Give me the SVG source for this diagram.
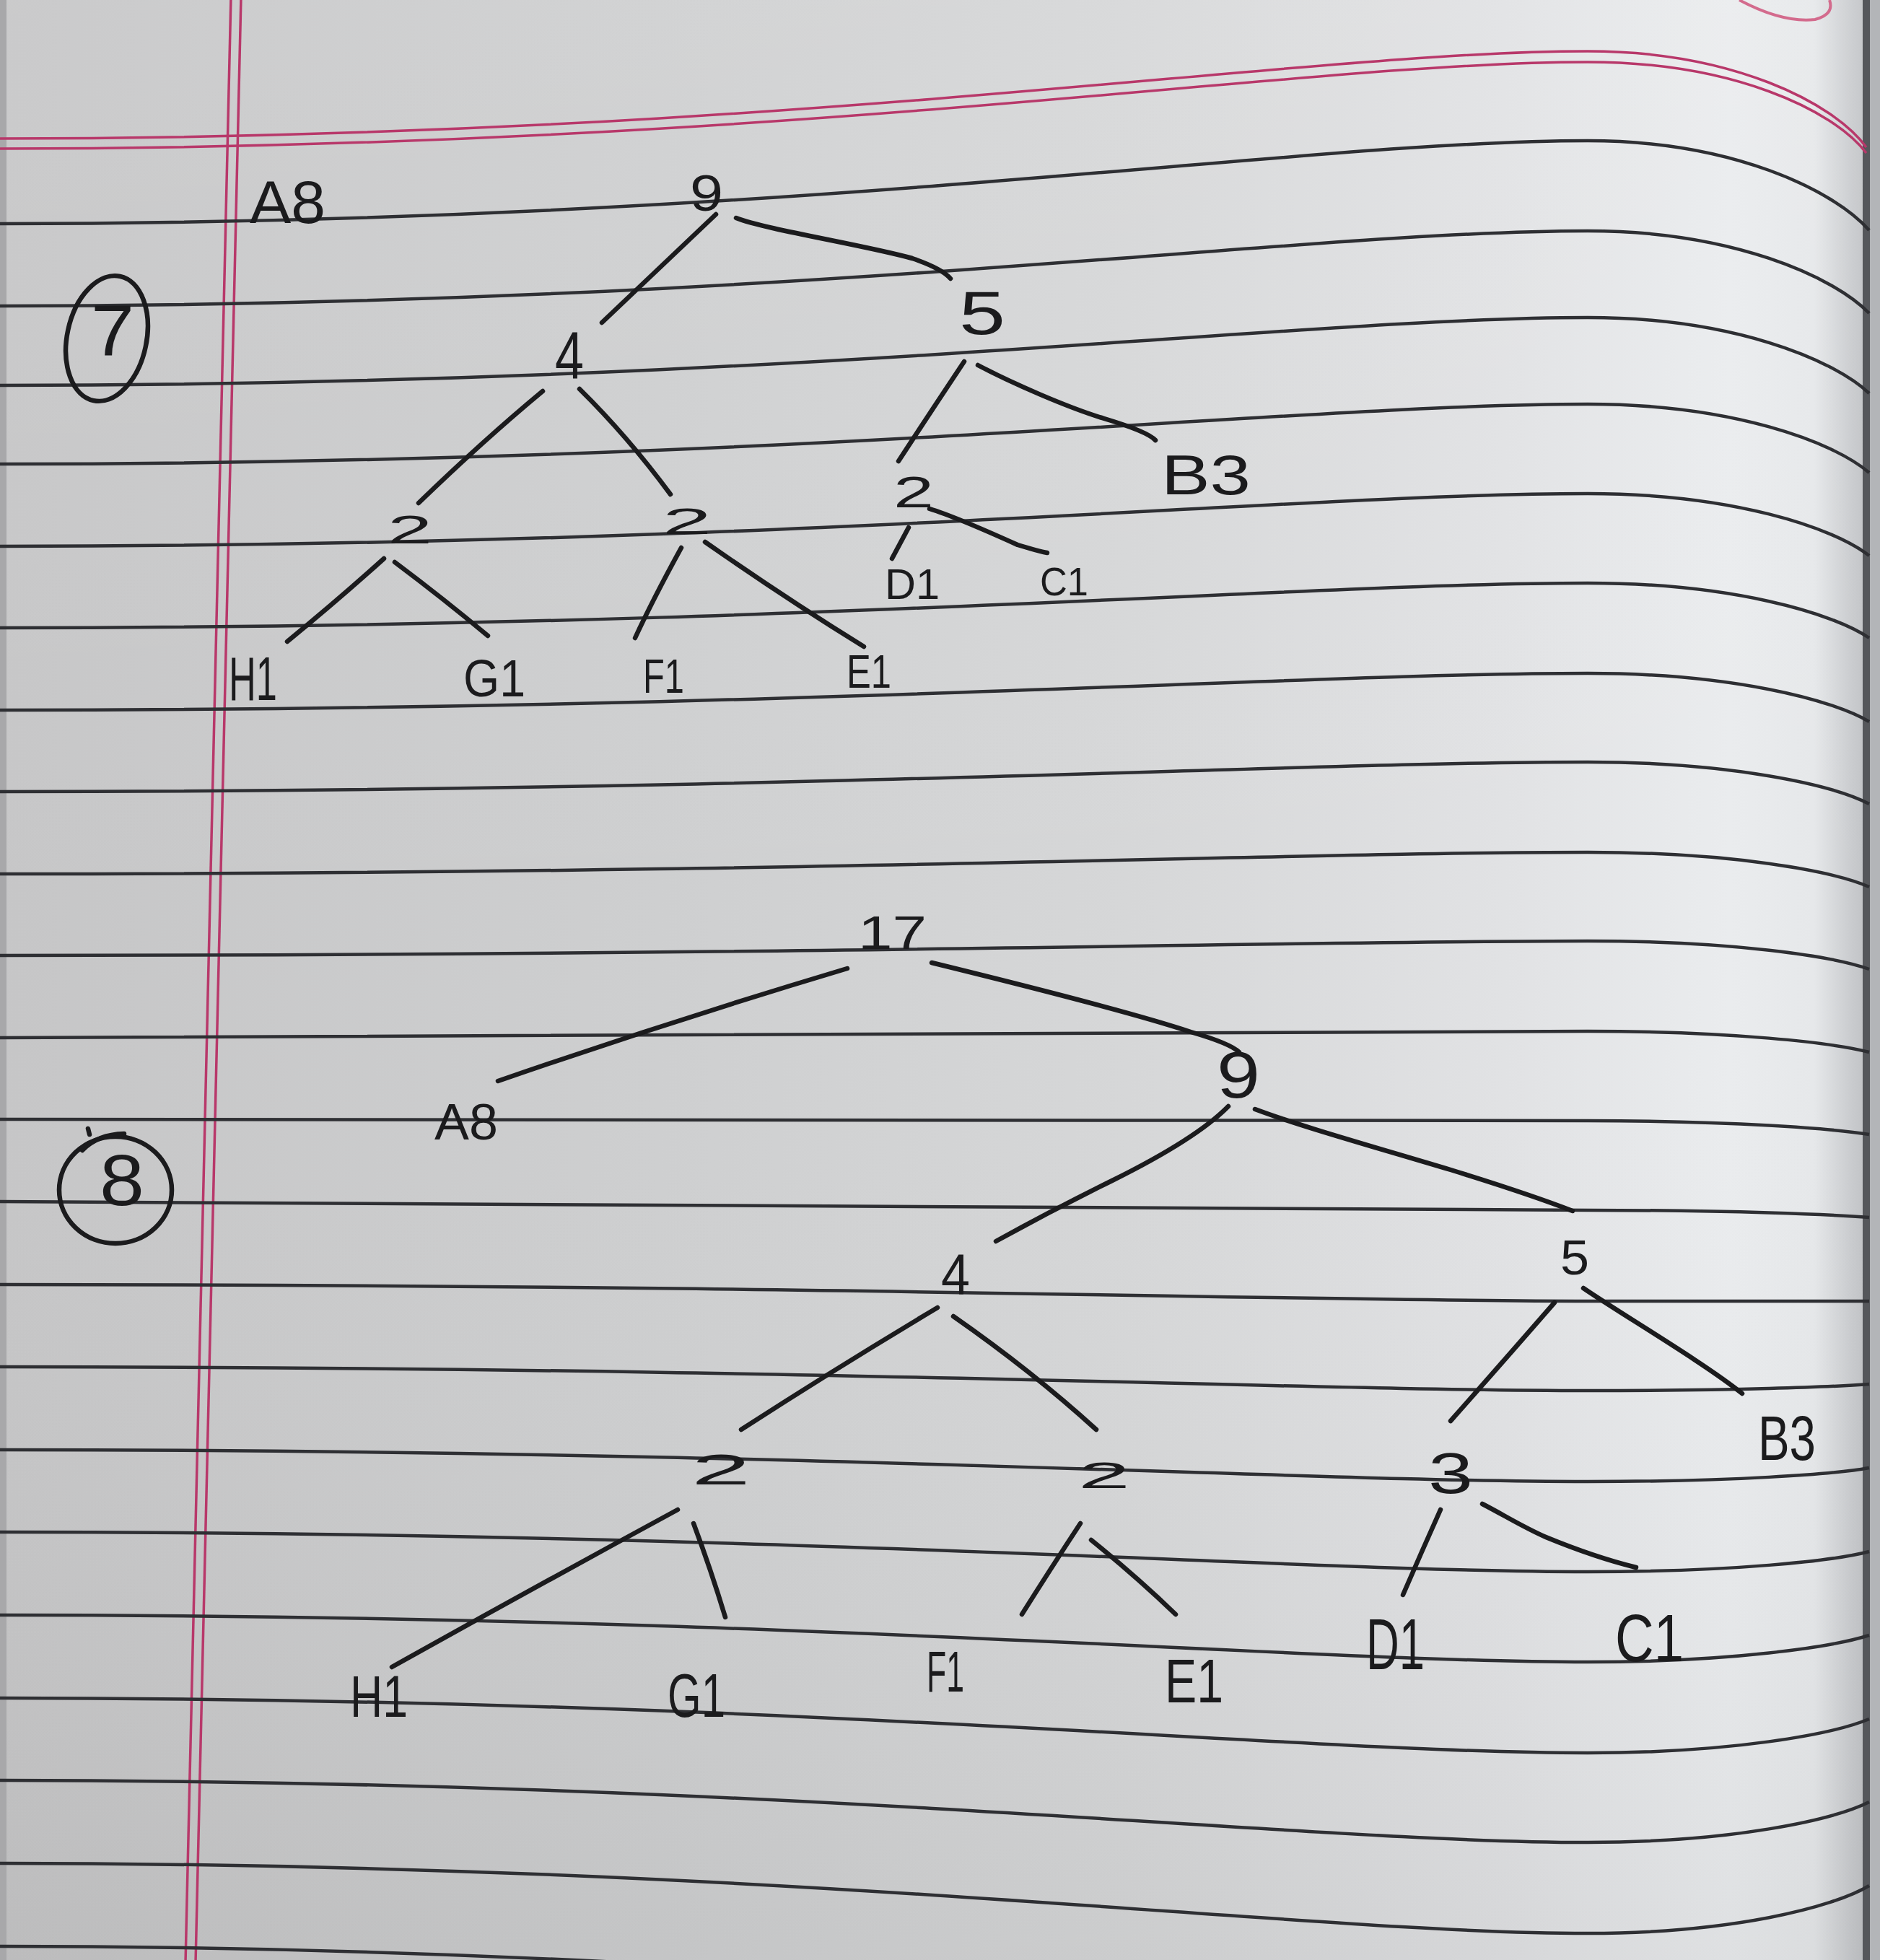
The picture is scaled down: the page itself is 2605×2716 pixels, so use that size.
<svg xmlns="http://www.w3.org/2000/svg" width="2605" height="2716" viewBox="0 0 2605 2716">
<defs>
<linearGradient id="paper" x1="0" y1="0" x2="1" y2="0">
<stop offset="0" stop-color="#c6c6c7"/>
<stop offset="0.35" stop-color="#cecfd0"/>
<stop offset="0.6" stop-color="#d6d7d8"/>
<stop offset="0.8" stop-color="#e1e2e4"/>
<stop offset="0.92" stop-color="#eaecee"/>
<stop offset="0.965" stop-color="#e6e8ea"/>
<stop offset="0.985" stop-color="#c9cbce"/>
<stop offset="1" stop-color="#b8babd"/>
</linearGradient>
<linearGradient id="shadeV" x1="0" y1="0" x2="0" y2="1">
<stop offset="0" stop-color="#ffffff" stop-opacity="0.08"/>
<stop offset="0.5" stop-color="#ffffff" stop-opacity="0"/>
<stop offset="1" stop-color="#000000" stop-opacity="0.05"/>
</linearGradient>
<style>
.rule{fill:none;stroke:#2e2f33;stroke-width:4.5}
.red{fill:none;stroke:#b8386a;stroke-width:3.5}
.ink{fill:none;stroke:#1b1b1d;stroke-width:6.5;stroke-linecap:round;stroke-linejoin:round}
.lbl{font-family:"Liberation Sans","DejaVu Sans",sans-serif;fill:#1b1b1d}
</style>
</defs>

<g id="paper-bg">
<rect x="0" y="0" width="2605" height="2716" fill="url(#paper)"/>
<rect x="0" y="0" width="2605" height="2716" fill="url(#shadeV)"/>
<rect x="0" y="0" width="9" height="2716" fill="#a8a8aa"/>
<rect x="2581" y="0" width="10" height="2716" fill="#55575b"/>
<rect x="2591" y="0" width="14" height="2716" fill="#b3b5b8"/>
<path d="M2410,0 Q2470,32 2515,27 Q2542,20 2535,0" fill="none" stroke="#d36b8d" stroke-width="4"/>
</g>

<g id="ruling">
<path class="red" d="M-10,192 C1100,192 1800,71 2200,71 C2400,71 2540,142 2586,204"/>
<path class="red" d="M-10,206 C1100,206 1800,86 2200,86 C2400,86 2540,152 2586,212"/>
<path class="red" d="M320,-5 L257,2720"/>
<path class="red" d="M334,-5 L271,2720"/>
<path class="rule" d="M-10,310 C1100,310 1800,195 2200,195 C2400,195 2540,263 2590,319"/>
<path class="rule" d="M-10,424 C1100,424 1800,320 2200,320 C2400,320 2540,383 2590,434"/>
<path class="rule" d="M-10,534 C1100,534 1800,440 2200,440 C2400,440 2540,498 2590,545"/>
<path class="rule" d="M-10,643 C1100,643 1800,560 2200,560 C2400,560 2540,612 2590,655"/>
<path class="rule" d="M-10,757 C1100,757 1800,684 2200,684 C2400,684 2540,731 2590,770"/>
<path class="rule" d="M-10,870 C1100,870 1800,808 2200,808 C2400,808 2540,850 2590,884"/>
<path class="rule" d="M-10,984 C1100,984 1800,933 2200,933 C2400,933 2540,970 2590,1000"/>
<path class="rule" d="M-10,1097 C1100,1097 1800,1056 2200,1056 C2400,1056 2540,1088 2590,1114"/>
<path class="rule" d="M-10,1211 C1100,1211 1800,1181 2200,1181 C2400,1181 2540,1207 2590,1229"/>
<path class="rule" d="M-10,1324 C1100,1324 1800,1304 2200,1304 C2400,1304 2540,1325 2590,1343"/>
<path class="rule" d="M-10,1438 C1100,1438 1800,1429 2200,1429 C2400,1429 2540,1445 2590,1458"/>
<path class="rule" d="M-10,1551 C1100,1551 1800,1553 2200,1553 C2400,1553 2540,1564 2590,1572"/>
<path class="rule" d="M-10,1665 C1100,1665 1800,1677 2200,1677 C2400,1677 2540,1683 2590,1687"/>
<path class="rule" d="M-10,1780 C1100,1780 1800,1803 2200,1803 C2400,1803 2540,1803 2590,1803"/>
<path class="rule" d="M-10,1894 C1100,1894 1800,1927 2200,1927 C2400,1927 2540,1922 2590,1918"/>
<path class="rule" d="M-10,2009 C1100,2009 1800,2053 2200,2053 C2400,2053 2540,2043 2590,2034"/>
<path class="rule" d="M-10,2123 C1100,2123 1800,2178 2200,2178 C2400,2178 2540,2163 2590,2150"/>
<path class="rule" d="M-10,2238 C1100,2238 1800,2303 2200,2303 C2400,2303 2540,2282 2590,2266"/>
<path class="rule" d="M-10,2353 C1100,2353 1800,2429 2200,2429 C2400,2429 2540,2403 2590,2382"/>
<path class="rule" d="M-10,2467 C1100,2467 1800,2553 2200,2553 C2400,2553 2540,2522 2590,2497"/>
<path class="rule" d="M-10,2582 C1100,2582 1800,2679 2200,2679 C2400,2679 2540,2643 2590,2613"/>
<path class="rule" d="M-10,2697 C1100,2697 1800,2805 2200,2805 C2400,2805 2540,2763 2590,2729"/>
</g>

<g id="connectors">
<!-- tree 7 -->
<path class="ink" d="M992,297 Q920,365 834,447"/>
<path class="ink" d="M1020,302 C1060,318 1200,340 1264,358 Q1305,372 1317,386"/>
<path class="ink" d="M752,542 Q670,610 580,697"/>
<path class="ink" d="M803,539 Q870,605 929,685"/>
<path class="ink" d="M1336,501 Q1290,570 1245,639"/>
<path class="ink" d="M1355,506 C1400,530 1480,565 1530,580 Q1590,598 1601,610"/>
<path class="ink" d="M1259,731 L1236,774"/>
<path class="ink" d="M1288,705 C1321,715 1379,741 1410,755 Q1440,764 1451,766"/>
<path class="ink" d="M532,774 Q470,830 398,889"/>
<path class="ink" d="M547,779 Q615,830 676,881"/>
<path class="ink" d="M944,759 Q905,830 880,884"/>
<path class="ink" d="M977,751 Q1090,830 1197,896"/>
<!-- tree 8 -->
<path class="ink" d="M1174,1342 Q930,1415 690,1498"/>
<path class="ink" d="M1291,1334 Q1560,1400 1650,1430 Q1705,1446 1717,1458"/>
<path class="ink" d="M1702,1533 Q1658,1578 1541,1636 Q1460,1676 1380,1720"/>
<path class="ink" d="M1739,1537 C1800,1560 1893,1586 2010,1621 Q2120,1655 2179,1678"/>
<path class="ink" d="M1299,1812 Q1160,1895 1027,1981"/>
<path class="ink" d="M1321,1824 Q1430,1900 1519,1981"/>
<path class="ink" d="M2154,1805 Q2080,1890 2010,1969"/>
<path class="ink" d="M2194,1785 C2245,1820 2362,1889 2414,1931"/>
<path class="ink" d="M939,2092 Q740,2200 543,2310"/>
<path class="ink" d="M961,2111 Q985,2175 1005,2241"/>
<path class="ink" d="M1497,2111 Q1455,2175 1416,2237"/>
<path class="ink" d="M1512,2134 Q1575,2185 1629,2237"/>
<path class="ink" d="M1996,2092 Q1970,2150 1944,2210"/>
<path class="ink" d="M2054,2084 C2085,2100 2110,2116 2142,2130 Q2210,2158 2267,2172"/>
</g>

<g id="label-7">
<ellipse class="ink" cx="148" cy="469" rx="55" ry="88" transform="rotate(12 148 469)"/>
<text class="lbl" x="126" y="493" font-size="100" textLength="60" lengthAdjust="spacingAndGlyphs">7</text>
</g>
<g id="label-8">
<ellipse class="ink" cx="160" cy="1649" rx="78" ry="74"/>
<path class="ink" d="M114,1594 Q135,1572 172,1571" stroke-width="5"/>
<path class="ink" d="M122,1564 L124,1572" stroke-width="4"/>
<text class="lbl" x="138" y="1670" font-size="100" textLength="62" lengthAdjust="spacingAndGlyphs">8</text>
</g>

<g id="t7-A8"><text class="lbl" x="346" y="309" font-size="84" textLength="105" lengthAdjust="spacingAndGlyphs">A8</text></g>
<g id="t7-n9"><text class="lbl" x="956" y="292" font-size="71" textLength="46" lengthAdjust="spacingAndGlyphs">9</text></g>
<g id="t7-n4"><text class="lbl" x="769" y="524" font-size="92" textLength="40" lengthAdjust="spacingAndGlyphs">4</text></g>
<g id="t7-n5"><text class="lbl" x="1329" y="463" font-size="85" textLength="64" lengthAdjust="spacingAndGlyphs">5</text></g>
<g id="t7-B3"><text class="lbl" x="1609" y="685" font-size="78" textLength="124" lengthAdjust="spacingAndGlyphs">B3</text></g>
<g id="t7-n2c"><text class="lbl" x="1238" y="703" font-size="62" textLength="56" lengthAdjust="spacingAndGlyphs">2</text></g>
<g id="t7-D1"><text class="lbl" x="1226" y="830" font-size="60" textLength="76" lengthAdjust="spacingAndGlyphs">D1</text></g>
<g id="t7-C1"><text class="lbl" x="1441" y="825" font-size="56" textLength="67" lengthAdjust="spacingAndGlyphs">C1</text></g>
<g id="t7-n2a"><text class="lbl" x="537" y="753" font-size="56" textLength="62" lengthAdjust="spacingAndGlyphs">2</text></g>
<g id="t7-n2b"><text class="lbl" x="918" y="740" font-size="50" textLength="68" lengthAdjust="spacingAndGlyphs">2</text></g>
<g id="t7-H1"><text class="lbl" x="317" y="970" font-size="85" textLength="67" lengthAdjust="spacingAndGlyphs">H1</text></g>
<g id="t7-G1"><text class="lbl" x="642" y="965" font-size="72" textLength="86" lengthAdjust="spacingAndGlyphs">G1</text></g>
<g id="t7-F1"><text class="lbl" x="891" y="960" font-size="67" textLength="57" lengthAdjust="spacingAndGlyphs">F1</text></g>
<g id="t7-E1"><text class="lbl" x="1173" y="953" font-size="64" textLength="62" lengthAdjust="spacingAndGlyphs">E1</text></g>

<g id="t8-n17"><text class="lbl" x="1189" y="1315" font-size="64" textLength="95" lengthAdjust="spacingAndGlyphs">17</text></g>
<g id="t8-A8"><text class="lbl" x="602" y="1579" font-size="70" textLength="88" lengthAdjust="spacingAndGlyphs">A8</text></g>
<g id="t8-n9"><text class="lbl" x="1686" y="1521" font-size="90" textLength="60" lengthAdjust="spacingAndGlyphs">9</text></g>
<g id="t8-n4"><text class="lbl" x="1304" y="1793" font-size="80" textLength="40" lengthAdjust="spacingAndGlyphs">4</text></g>
<g id="t8-n5"><text class="lbl" x="2162" y="1766" font-size="68" textLength="40" lengthAdjust="spacingAndGlyphs">5</text></g>
<g id="t8-B3"><text class="lbl" x="2436" y="2023" font-size="88" textLength="80" lengthAdjust="spacingAndGlyphs">B3</text></g>
<g id="t8-n2a"><text class="lbl" x="958" y="2057" font-size="60" textLength="82" lengthAdjust="spacingAndGlyphs">2</text></g>
<g id="t8-n2b"><text class="lbl" x="1494" y="2062" font-size="50" textLength="72" lengthAdjust="spacingAndGlyphs">2</text></g>
<g id="t8-n3"><text class="lbl" x="1979" y="2069" font-size="80" textLength="62" lengthAdjust="spacingAndGlyphs">3</text></g>
<g id="t8-H1"><text class="lbl" x="485" y="2379" font-size="81" textLength="80" lengthAdjust="spacingAndGlyphs">H1</text></g>
<g id="t8-G1"><text class="lbl" x="925" y="2379" font-size="86" textLength="80" lengthAdjust="spacingAndGlyphs">G1</text></g>
<g id="t8-F1"><text class="lbl" x="1284" y="2344" font-size="80" textLength="52" lengthAdjust="spacingAndGlyphs">F1</text></g>
<g id="t8-E1"><text class="lbl" x="1614" y="2359" font-size="85" textLength="81" lengthAdjust="spacingAndGlyphs">E1</text></g>
<g id="t8-D1"><text class="lbl" x="1893" y="2313" font-size="100" textLength="81" lengthAdjust="spacingAndGlyphs">D1</text></g>
<g id="t8-C1"><text class="lbl" x="2238" y="2302" font-size="92" textLength="95" lengthAdjust="spacingAndGlyphs">C1</text></g>
</svg>
